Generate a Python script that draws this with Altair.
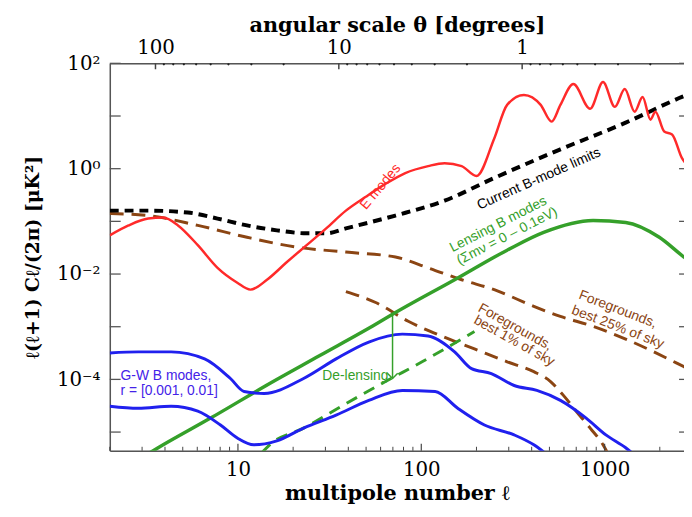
import altair as alt
import pandas as pd

# ---------------- data ----------------
# E-mode power spectrum
e_ell = [2.0, 2.53, 3.24, 3.91, 4.71, 6.04, 7.74, 9.92, 11.7, 14.4, 18.5, 23.7, 30.3, 38.8,
         49.8, 63.8, 81.8, 109, 134, 166, 200, 250, 294, 363, 448, 514, 574, 675, 834,
         980, 1137, 1288, 1458, 1611, 1779, 1892, 2114, 2333, 2642, 3000]
e_cl = [0.0543, 0.0838, 0.113, 0.118, 0.0838, 0.0353, 0.0131, 0.00684, 0.00506, 0.00778,
        0.0169, 0.0353, 0.0736, 0.160, 0.293, 0.514, 0.826, 1.12, 1.27, 1.12, 0.726, 3.75,
        16.3, 25.1, 16.3, 7.82, 16.3, 40.4, 13.7, 44.1, 14.9, 32.5, 12.1, 23.0, 8.53, 12.1,
        5.07, 4.46, 1.58, 1.0]

# current B-mode limits
lim_ell = [2.0, 3.24, 5.33, 7.74, 11.2, 16.3, 23.7, 30.3, 38.8, 72.3, 134, 250, 574, 1303, 2642, 3000]
lim_cl = [0.160, 0.160, 0.147, 0.113, 0.0838, 0.0675, 0.0593, 0.0593, 0.0736, 0.129, 0.247,
          0.667, 2.33, 7.48, 23.0, 27.4]

# lensing B-modes
lens_ell = [3.24, 3.67, 7.09, 14.9, 27.8, 56.4, 69.7, 152, 294, 465, 865, 1303, 1987, 2710, 3000]
lens_cl = [3.88e-6, 5.03e-6, 1.84e-5, 8.34e-5, 2.80e-4, 1.11e-3, 1.72e-3, 7.78e-3, 0.0284,
           0.0619, 0.104, 0.0953, 0.0499, 0.0210, 0.0162]

# de-lensed residual
delens_ell = [13.5, 14.9, 22.8, 37.4, 63.8, 101, 195]
delens_cl = [4.06e-6, 5.73e-6, 1.19e-5, 3.22e-5, 9.10e-5, 2.16e-4, 8.10e-4]

# gravitational-wave B-modes, upper and lower r
gw_hi_ell = [2.0, 2.86, 4.32, 6.58, 9.10, 10.8, 13.9, 22.8, 34.3, 51.7, 78.8, 109, 152, 188,
             241, 321, 427, 574, 793, 1016, 1303, 1514]
gw_hi_cl = [3.18e-4, 3.33e-4, 3.33e-4, 2.45e-4, 1.04e-4, 5.90e-5, 5.42e-5, 1.04e-4, 2.45e-4,
            5.12e-4, 7.23e-4, 6.64e-4, 3.33e-4, 1.60e-4, 1.29e-4, 7.66e-5, 6.17e-5, 4.00e-5,
            1.84e-5, 8.83e-6, 5.03e-6, 3.27e-6]
gw_lo_ell = [2.0, 2.86, 4.32, 6.04, 8.03, 9.92, 12.2, 16.3, 22.8, 34.3, 51.7, 78.8, 119, 158,
             221, 321, 411, 494]
gw_lo_cl = [3.09e-5, 2.83e-5, 3.09e-5, 2.49e-5, 1.36e-5, 7.74e-6, 5.73e-6, 6.81e-6, 1.19e-5,
            2.09e-5, 4.00e-5, 6.17e-5, 5.90e-5, 2.83e-5, 1.36e-5, 8.83e-6, 5.73e-6, 3.56e-6]

# foregrounds
fg25_ell = [2.0, 3.24, 6.04, 11.2, 20.9, 38.8, 72.3, 109, 166, 250, 411, 574, 865, 1303, 2710, 3000]
fg25_cl = [0.141, 0.129, 0.0838, 0.0499, 0.0324, 0.0261, 0.0210, 0.0131, 7.78e-3, 5.06e-3,
           2.43e-3, 1.57e-3, 1.02e-3, 5.82e-4, 1.74e-4, 1.46e-4]
fg1_ell = [38.8, 56.4, 84.9, 129, 195, 294, 411, 507, 596, 700, 834, 980, 1070]
fg1_cl = [4.63e-3, 2.88e-3, 1.27e-3, 6.64e-4, 3.78e-4, 2.16e-4, 1.40e-4, 9.10e-5, 4.97e-5,
          2.49e-5, 1.19e-5, 5.73e-6, 3.27e-6]

# de-lensing arrow
arrow_ell = [69.7]
arrow_top = [1.72e-3]
arrow_bottom = [1.04e-4]

# axes
x_ticks = [10, 100, 1000]
x_minor = [2, 3, 4, 5, 6, 7, 8, 9, 20, 30, 40, 50, 60, 70, 80, 90,
           200, 300, 400, 500, 600, 700, 800, 900, 2000]
y_ticks = [1e2, 1e0, 1e-2, 1e-4]
y_labels = ["10²", "10⁰", "10⁻²", "10⁻⁴"]
y_decades = [1e2, 1e1, 1e0, 1e-1, 1e-2, 1e-3, 1e-4, 1e-5]
theta_major = [100, 10, 1]
theta_minor = [90, 80, 70, 60, 50, 40, 30, 20, 9, 8, 7, 6, 5, 4, 3, 2,
               0.9, 0.8, 0.7, 0.6, 0.5, 0.4, 0.3, 0.2]
THETA_ELL = 355.0  # ell * theta[deg] used by the top axis of the figure

# annotations
ann_center = pd.DataFrame({
    "text": ["E modes", "Current B-mode limits", "Lensing B modes", "(Σmν = 0 – 0.1eV)",
             "Foregrounds,", "best 25% of sky", "Foregrounds,", "best 1% of sky"],
    "l": [60.0, 438, 263, 294, 1180, 1180, 325, 321],
    "c": [0.452, 0.638, 0.0875, 0.0521, 2.13e-3, 9.80e-4, 9.80e-4, 5.35e-4],
    "angle": [310, 336, 333, 333, 21, 21, 29, 29],
    "color": ["#ff2a2a", "#000000", "#35a02a", "#35a02a", "#8b4513", "#8b4513", "#8b4513", "#8b4513"],
})
ann_left = pd.DataFrame({
    "text": ["G-W B modes,", "r = [0.001, 0.01]"],
    "l": [2.29, 2.29],
    "c": [1.18e-4, 5.90e-5],
})
ann_right = pd.DataFrame({"text": ["De-lensing"], "l": [66.2], "c": [1.18e-4]})

# ---------------- chart ----------------
W, H = 581, 392
xs = alt.Scale(type="log", domain=[2, 2710], nice=False)
ys = alt.Scale(type="log", domain=[4.42e-6, 100], nice=False)
SERIF = "DejaVu Serif"
SANS = "Liberation Sans"

label_expr = " : ".join(
    f"datum.value > {v / 3:g} ? '{lab}'" for v, lab in zip(y_ticks, y_labels)) + " : ''"

YAX = alt.Axis(values=y_ticks, labelExpr=label_expr, ticks=False, grid=False,
               domainColor="#555", domainWidth=1.5,
               labelFont=SERIF, labelFontSize=20, labelColor="black", labelPadding=10,
               title="ℓ(ℓ+1) Cℓ/(2π) [μK²]", titleFont=SERIF, titleFontSize=19,
               titleFontWeight="bold", titleColor="black", titlePadding=14)


def X(axis=None):
    return alt.X("l:Q", scale=xs, axis=axis)


def Y():
    return alt.Y("c:Q", scale=ys, axis=YAX)


def line(ell, cl, color, width, dash=None):
    df = pd.DataFrame({"l": ell, "c": cl, "i": list(range(len(ell)))})
    kw = dict(color=color, strokeWidth=width, clip=True, interpolate="monotone")
    if dash:
        kw["strokeDash"] = dash
    return alt.Chart(df).mark_line(**kw).encode(x=X(), y=Y(), order="i:Q")


axis_df = pd.DataFrame({"l": [10, 100, 1000, 1000], "c": y_ticks})
axes_layer = alt.Chart(axis_df).mark_point(opacity=0).encode(
    x=X(alt.Axis(values=x_ticks, format="d", ticks=False, grid=False,
                 domainColor="#555", domainWidth=1.5,
                 labelFont=SERIF, labelFontSize=20, labelColor="black", labelPadding=9,
                 title="multipole number ℓ", titleFont=SERIF, titleFontSize=21,
                 titleFontWeight="bold", titleColor="black", titlePadding=3)),
    y=Y(),
)

top_df = pd.DataFrame({"theta": theta_major})
top_df["l"] = THETA_ELL / top_df["theta"]
top_df["c"] = 1.0
top_axis_layer = alt.Chart(top_df).mark_point(opacity=0).encode(
    x=alt.X("l:Q", scale=xs, axis=alt.Axis(
        orient="top", values=list(top_df["l"]), labelExpr=f"format({THETA_ELL}/datum.value, 'd')",
        ticks=False, grid=False, domainColor="#555", domainWidth=1.5,
        labelFont=SERIF, labelFontSize=20, labelColor="black", labelPadding=6,
        title="angular scale θ [degrees]", titleFont=SERIF, titleFontSize=21,
        titleFontWeight="bold", titleColor="black", titlePadding=2)),
    y=Y(),
)

# tick marks drawn inside the frame
top_major = alt.Chart(top_df).mark_rule(color="#444", strokeWidth=1.5).encode(
    x=X(), y=alt.value(0), y2=alt.value(6))
minor_df = pd.DataFrame({"theta": theta_minor})
minor_df["l"] = THETA_ELL / minor_df["theta"]
top_minor = alt.Chart(minor_df).mark_circle(color="#222", size=5, opacity=1).encode(
    x=X(), y=alt.value(1))

xt_df = pd.DataFrame({"l": x_ticks})
xm_df = pd.DataFrame({"l": x_minor})
bot_major = alt.Chart(xt_df).mark_rule(color="#444", strokeWidth=1.2).encode(
    x=X(), y=alt.value(H), y2=alt.value(H - 7))
bot_minor = alt.Chart(xm_df).mark_rule(color="#444", strokeWidth=1).encode(
    x=X(), y=alt.value(H), y2=alt.value(H - 4))
yd_df = pd.DataFrame({"c": y_decades})
left_ticks = alt.Chart(yd_df).mark_rule(color="#555", strokeWidth=1.3).encode(
    y=Y(), x=alt.value(0), x2=alt.value(11))
right_ticks = alt.Chart(yd_df).mark_rule(color="#555", strokeWidth=1.3).encode(
    y=Y(), x=alt.value(W - 5), x2=alt.value(W))

# curves
red = line(e_ell, e_cl, "#ff2a2a", 2.5)
blk = line(lim_ell, lim_cl, "#000000", 4, [9, 6])
fg25 = line(fg25_ell, fg25_cl, "#8b4513", 3, [14, 8])
fg1 = line(fg1_ell, fg1_cl, "#8b4513", 3, [14, 8])
lens = line(lens_ell, lens_cl, "#35a02a", 3.5)
delens = line(delens_ell, delens_cl, "#35a02a", 3, [12, 8])
gw_hi = line(gw_hi_ell, gw_hi_cl, "#2020ee", 3)
gw_lo = line(gw_lo_ell, gw_lo_cl, "#2020ee", 3)

arrow_df = pd.DataFrame({"l": arrow_ell, "c": arrow_top, "c2": arrow_bottom})
arrow_rule = alt.Chart(arrow_df).mark_rule(color="#35a02a", strokeWidth=1.5).encode(
    x=X(), y=Y(), y2="c2:Q")
head_df = pd.DataFrame({"l": arrow_ell, "c": arrow_bottom})
arrow_head = alt.Chart(head_df).mark_point(
    shape="M-1,-1L0,0L1,-1", size=110, filled=False, color="#35a02a", strokeWidth=1.5, opacity=1
).encode(x=X(), y=Y())

txt_c = alt.Chart(ann_center).mark_text(font=SANS, fontSize=14, align="center", baseline="middle").encode(
    x=X(), y=Y(), text="text:N", angle=alt.Angle("angle:Q", scale=None),
    color=alt.Color("color:N", scale=None))
txt_l = alt.Chart(ann_left).mark_text(font=SANS, fontSize=14, align="left", baseline="middle",
                                      color="#4422e8").encode(x=X(), y=Y(), text="text:N")
txt_r = alt.Chart(ann_right).mark_text(font=SANS, fontSize=14, align="right", baseline="middle",
                                       color="#35a02a").encode(x=X(), y=Y(), text="text:N")

chart = alt.layer(
    axes_layer, top_axis_layer,
    fg25, fg1, blk, red, lens, delens, gw_hi, gw_lo,
    arrow_rule, arrow_head,
    top_major, top_minor, bot_major, bot_minor, left_ticks, right_ticks,
    txt_c, txt_l, txt_r,
).resolve_axis(x="independent").properties(
    width=W, height=H,
    autosize=alt.AutoSizeParams(type="none"),
    padding={"left": 103, "top": 53, "right": 0, "bottom": 60},
).configure_view(stroke=None).configure(background="white")

chart.save("out.html", embed_options={"renderer": "svg", "actions": False})
